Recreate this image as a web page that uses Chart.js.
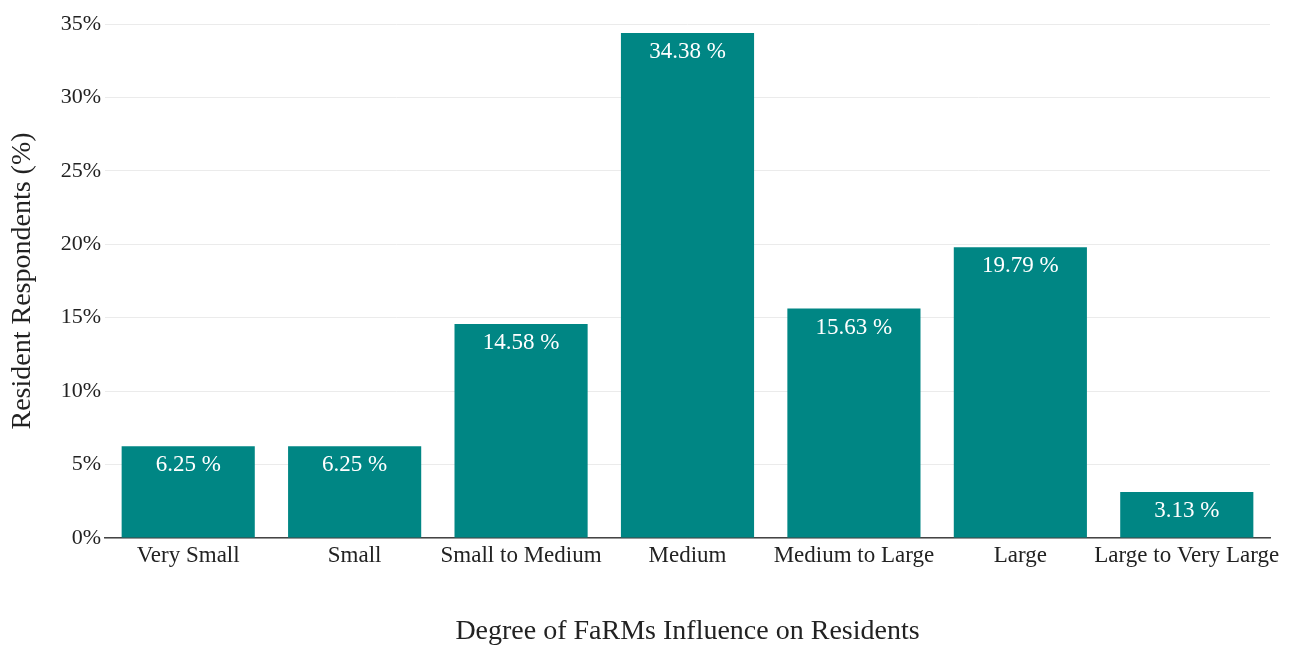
<!DOCTYPE html>
<html lang="en">
<head>
  <meta charset="UTF-8">
  <title>Degree of FaRMs Influence on Residents</title>
  <style>
    html, body {
      margin: 0;
      padding: 0;
      background: #fff;
    }
    #wrap {
      width: 1294px;
      height: 645px;
    }
  </style>
</head>
<body>
  <div id="wrap"><canvas id="chart" width="1294" height="645"></canvas></div>

  <script src="https://cdn.jsdelivr.net/npm/chart.js"></script>
  <script>
    // data
    const categories = ['Very Small', 'Small', 'Small to Medium', 'Medium', 'Medium to Large', 'Large', 'Large to Very Large'];
    const shares = [6.25, 6.25, 14.58, 34.38, 15.63, 19.79, 3.13];
    const yTicks = [0, 5, 10, 15, 20, 25, 30, 35];

    const serif = "'Liberation Serif', 'Times New Roman', serif";

    // white value labels near the top of each bar
    const barLabels = {
      id: 'barLabels',
      afterDatasetsDraw(chart) {
        const ctx = chart.ctx;
        const meta = chart.getDatasetMeta(0);
        ctx.save();
        ctx.fillStyle = '#fff';
        ctx.font = '23px ' + serif;
        ctx.textAlign = 'center';
        ctx.textBaseline = 'middle';
        meta.data.forEach((bar, i) => {
          ctx.fillText(shares[i].toFixed(2) + ' %', bar.x, bar.y + 19);
        });
        ctx.restore();
      }
    };

    new Chart(document.getElementById('chart'), {
      type: 'bar',
      data: {
        labels: categories,
        datasets: [{
          data: shares,
          backgroundColor: '#008684',
          borderWidth: 0,
          categoryPercentage: 0.8,
          barPercentage: 1.0
        }]
      },
      options: {
        responsive: false,
        animation: false,
        layout: { padding: { top: 24, right: 24, bottom: 0, left: 0 } },
        plugins: {
          legend: { display: false },
          tooltip: { enabled: false }
        },
        scales: {
          x: {
            grid: { display: false, drawTicks: false },
            border: { display: true, color: '#444', width: 1.5 },
            ticks: {
              color: '#222',
              padding: 4,
              maxRotation: 0,
              autoSkip: false,
              font: { family: serif, size: 23 }
            },
            title: {
              display: true,
              text: 'Degree of FaRMs Influence on Residents',
              color: '#222',
              padding: { top: 0, bottom: -3 },
              font: { family: serif, size: 28 }
            },
            afterFit(scale) { scale.height = 107; }
          },
          y: {
            min: 0,
            max: 35,
            afterBuildTicks(scale) { scale.ticks = yTicks.map(v => ({ value: v })); },
            grid: { color: '#ebebeb', drawTicks: false },
            border: { display: false },
            ticks: {
              color: '#222',
              padding: 4,
              font: { family: serif, size: 22 },
              callback: v => v + '%'
            },
            title: {
              display: true,
              text: 'Resident Respondents (%)',
              color: '#222',
              padding: { top: 6, bottom: 0 },
              font: { family: serif, size: 28 }
            },
            afterFit(scale) { scale.width = 105; }
          }
        }
      },
      plugins: [barLabels]
    });
  </script>
</body>
</html>
